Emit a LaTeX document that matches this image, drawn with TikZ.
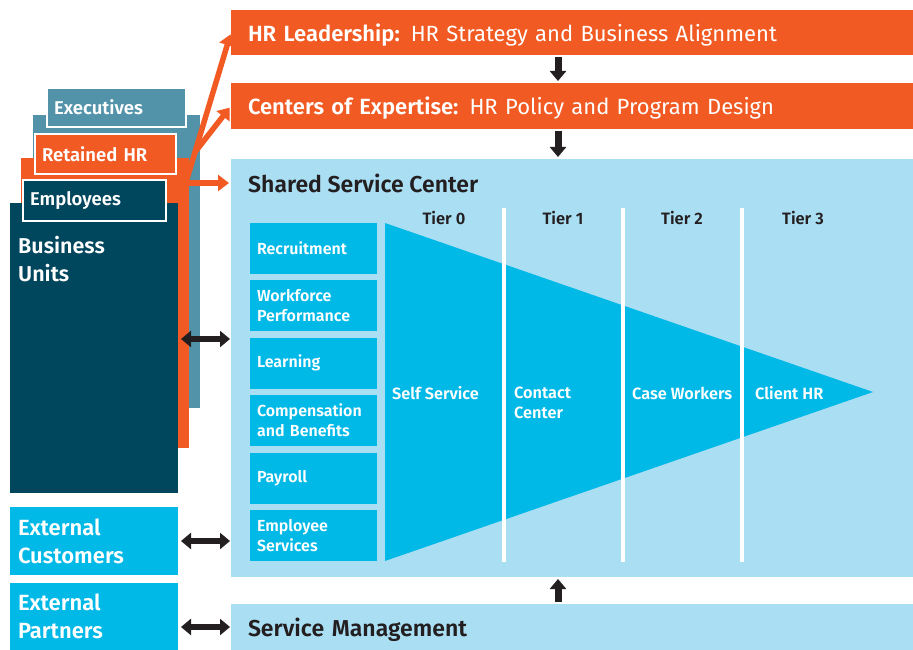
\documentclass[tikz,border=0pt]{standalone}
\usepackage{fontspec}
\setmainfont{Fira Sans}[BoldFont={Fira Sans SemiBold}]
\usetikzlibrary{arrows.meta,calc}

\definecolor{hrorange}{HTML}{F15A22}
\definecolor{hrteal}{HTML}{5293AA}
\definecolor{hrnavy}{HTML}{00475E}
\definecolor{hrcyan}{HTML}{00B9E7}
\definecolor{hrpale}{HTML}{A9DEF3}
\definecolor{hrdark}{HTML}{231F20}

\tikzset{
  box/.style={anchor=north west, inner sep=0pt, outer sep=0pt},
  tab/.style={box, draw=white, line width=1.5pt, inner xsep=7pt, align=left,
    text=white, font=\fontsize{18.5}{20}\selectfont\bfseries},
  sidebox/.style={box, fill=hrcyan, minimum width=168pt, inner xsep=8pt,
    text width=152pt, align=left, text=white, font=\fontsize{22}{28}\selectfont\bfseries},
  bar/.style={box, minimum height=46pt, inner xsep=17pt, text width=648pt, text depth=0pt,
    align=left, font=\fontsize{22}{24}\selectfont},
  func/.style={box, fill=hrcyan, minimum height=51pt, inner xsep=7pt, text width=113pt,
    align=left, text=white, font=\fontsize{16}{20}\selectfont\bfseries},
  tierlabel/.style={text=hrdark, font=\fontsize{16.5}{18}\selectfont\bfseries},
  tierbody/.style={anchor=west, inner sep=0pt, align=left, text=white,
    font=\fontsize{16.3}{20}\selectfont\bfseries},
  blkarrow/.style={draw=hrdark, line width=7pt, -{Triangle[length=10pt,width=16pt]},
    shorten <=2pt, shorten >=2pt},
  dblarrow/.style={draw=hrdark, line width=6pt,
    {Triangle[length=10pt,width=16pt]}-{Triangle[length=10pt,width=16pt]},
    shorten <=3pt, shorten >=1pt},
  orgarrow/.style={draw=hrorange, line width=5.5pt, -{Triangle[length=11pt,width=16pt]},
    shorten >=2pt}
}

\begin{document}
\begin{tikzpicture}[x=1pt,y=-1pt]
  \useasboundingbox (0,0) rectangle (913,650);

  % stacked groups on the left, back to front
  \node[box, fill=hrteal, minimum width=167pt, minimum height=293pt] (tealback) at (33,115) {};
  \node[tab, fill=hrteal, text width=125pt, minimum height=39pt] (exec) at (47,88) {Executives};
  \node[box, fill=hrorange, minimum width=168pt, minimum height=290pt] (orangeback) at (21,158) {};
  \node[tab, fill=hrorange, text width=127pt, minimum height=40pt] (retained) at (35,134) {Retained HR};
  \node[box, fill=hrnavy, minimum width=168pt, minimum height=290pt] (navyback) at (10,203) {};
  \node[tab, fill=hrnavy, text width=129pt, minimum height=41pt] (employees) at (23,180) {Employees};
  \node[anchor=north west, inner sep=0pt, align=left, text=white,
    font=\fontsize{21.5}{28}\selectfont\bfseries] (bunits) at (18,236) {Business\\Units};

  \node[sidebox, minimum height=68pt] (extcust) at (10,507) {External\\Customers};
  \node[sidebox, minimum height=67pt] (extpart) at (10,583) {External\\Partners};

  % bars on the right
  \node[bar, fill=hrorange, text=white, minimum height=45pt] (hrlead) at (231,10)
    {\textbf{HR Leadership:} HR Strategy and Business Alignment};
  \node[bar, fill=hrorange, text=white] (coe) at (231,83)
    {\textbf{Centers of Expertise:} HR Policy and Program Design};
  \node[box, fill=hrpale, minimum width=682pt, minimum height=418pt] (ssc) at (231,159) {};
  \node[anchor=west, inner sep=0pt, text=hrdark, font=\fontsize{23}{24}\selectfont\bfseries]
    (ssctitle) at (248,183) {Shared Service Center};
  \node[bar, fill=hrpale, text=hrdark, font=\fontsize{23}{24}\selectfont\bfseries] (svcmgmt) at (231,604)
    {Service Management};

  % functions
  \foreach \name/\txt [count=\i from 0] in {recruit/Recruitment, workforce/Workforce\\Performance,
      learning/Learning, comp/Compensation\\and Benefits, payroll/Payroll, empsvc/Employee\\Services}
    \node[func] (\name) at (250,{223+57.4*\i}) {\txt};

  % tiers
  \fill[hrcyan] (385,223) -- (873,392) -- (385,561) -- cycle;
  \foreach \x in {504,623,742}
    \draw[white, line width=3.5pt] (\x,208) -- (\x,562);
  \foreach \t/\x in {0/444,1/563,2/682,3/803}
    \node[tierlabel] (tier\t) at (\x,218) {Tier \t};

  \node[tierbody] (selfsvc) at (392,393) {Self Service};
  \node[tierbody] (contact) at (514,403) {Contact\\Center};
  \node[tierbody] (caseworkers) at (632,393) {Case Workers};
  \node[tierbody] (clienthr) at (755,393) {Client HR};

  % connectors
  \coordinate (mid) at (558,0);
  \draw[blkarrow] (mid |- hrlead.south) -- (mid |- coe.north);
  \draw[blkarrow] (mid |- coe.south) -- (mid |- ssc.north);
  \draw[blkarrow] (mid |- svcmgmt.north) -- (mid |- ssc.south);

  \coordinate (bu) at (0,339);
  \draw[dblarrow] (navyback.east |- bu) -- (ssc.west |- bu);
  \draw[dblarrow] (extcust.east) -- (ssc.west |- extcust.east);
  \draw[dblarrow] (extpart.east |- svcmgmt.west) -- (svcmgmt.west);

  \coordinate (fork) at (186,182);
  \draw[orgarrow] (fork) -- (hrlead.west);
  \draw[orgarrow] ($(fork)!0.2!(hrlead.west)$) -- (coe.west);
  \draw[orgarrow] (orangeback.east |- ssctitle) -- (ssc.west |- ssctitle);
\end{tikzpicture}
\end{document}
